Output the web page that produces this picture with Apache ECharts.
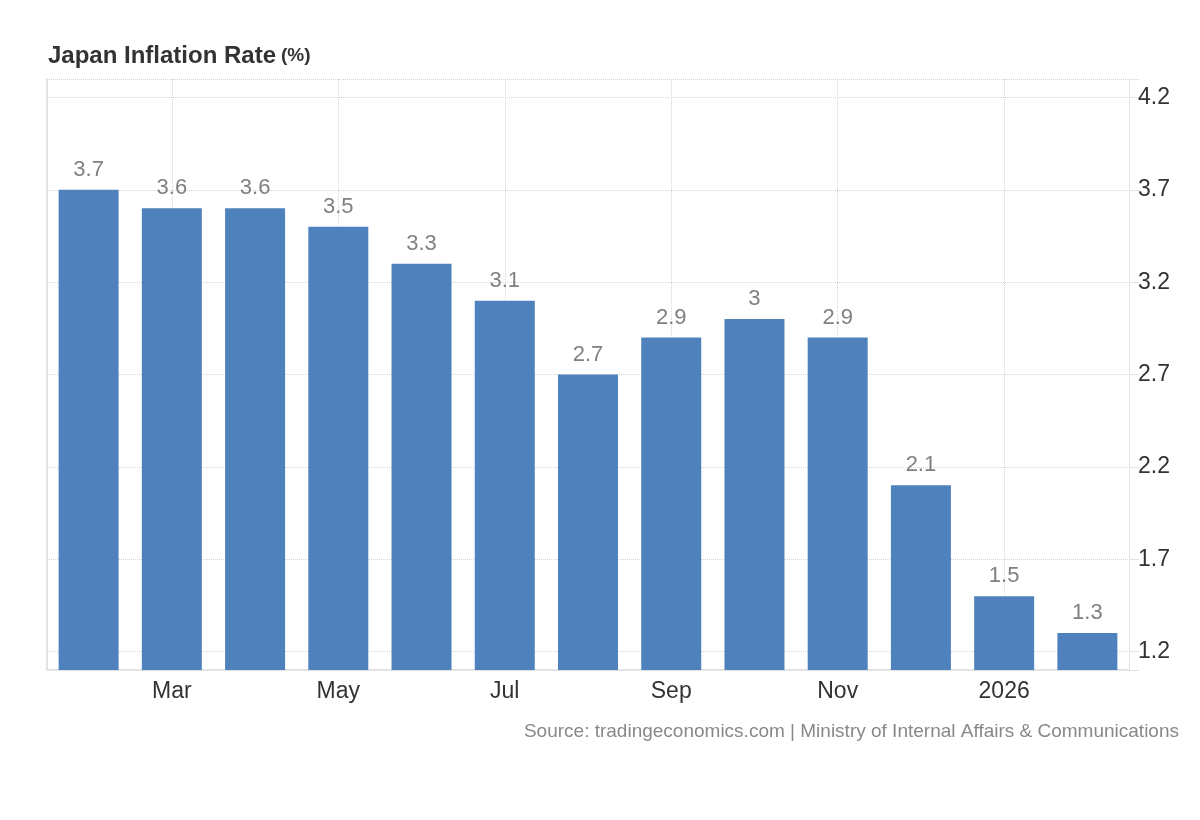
<!DOCTYPE html>
<html>
<head>
<meta charset="utf-8">
<script src="https://cdn.jsdelivr.net/npm/echarts@6/dist/echarts.min.js"></script>
<style>
html,body{margin:0;padding:0;background:#fff;}
#chart{width:1200px;height:820px;}
</style>
</head>
<body>
<div id="chart"></div>
<script>
const categories = ['Feb 2025','Mar 2025','Apr 2025','May 2025','Jun 2025','Jul 2025','Aug 2025','Sep 2025','Oct 2025','Nov 2025','Dec 2025','Jan 2026','Feb 2026'];
const xTickLabels = ['', 'Mar', '', 'May', '', 'Jul', '', 'Sep', '', 'Nov', '', '2026', ''];
const inflation = [3.7, 3.6, 3.6, 3.5, 3.3, 3.1, 2.7, 2.9, 3.0, 2.9, 2.1, 1.5, 1.3];
const yTickLabels = [1.2, 1.7, 2.2, 2.7, 3.2, 3.7, 4.2];
const yMin = 1.1, yMax = 4.3;

const FONT = '"Liberation Sans", Arial, Helvetica, sans-serif';
const chart = echarts.init(document.getElementById('chart'), null, {renderer: 'canvas'});

const vLines = categories
  .map((c, i) => xTickLabels[i] ? {xAxis: c} : null)
  .filter(Boolean);

chart.setOption({
  animation: false,
  backgroundColor: '#fff',
  textStyle: {fontFamily: FONT},
  title: {
    text: '{a|Japan Inflation Rate} {b|(%)}',
    left: 43,
    top: 39,
    textStyle: {
      rich: {
        a: {fontFamily: FONT, fontSize: 24, fontWeight: 'bold', color: '#333'},
        b: {fontFamily: FONT, fontSize: 19, fontWeight: 'bold', color: '#333'}
      }
    }
  },
  graphic: [{
    type: 'text',
    right: 21,
    top: 722,
    style: {
      text: 'Source: tradingeconomics.com | Ministry of Internal Affairs & Communications',
      font: '19px ' + FONT,
      fill: '#888'
    }
  }],
  grid: {left: 47, right: 71, top: 79, bottom: 150, containLabel: false},
  xAxis: {
    type: 'category',
    data: categories,
    axisLine: {show: true, lineStyle: {color: '#e3e3e3', width: 2}},
    axisTick: {show: false},
    axisLabel: {
      interval: 0,
      margin: 10,
      fontSize: 23,
      color: '#333',
      fontFamily: FONT,
      formatter: (v, i) => xTickLabels[i]
    },
    splitLine: {show: false}
  },
  yAxis: [{
    type: 'value',
    position: 'right',
    min: yMin,
    max: yMax,
    axisLine: {show: true, lineStyle: {color: '#e3e3e3', width: 1}},
    axisTick: {
      show: true, length: 10, inside: false,
      lineStyle: {color: '#e3e3e3'},
      customValues: [yMin].concat(yTickLabels, [yMax])
    },
    axisLabel: {
      customValues: yTickLabels,
      margin: 9,
      fontSize: 23,
      color: '#333',
      fontFamily: FONT,
      formatter: v => v.toFixed(1)
    },
    splitLine: {show: true, lineStyle: {color: '#d6d6d6', type: 'dotted', width: 1}}
  }, {
    type: 'value',
    position: 'left',
    min: yMin,
    max: yMax,
    axisLine: {show: true, lineStyle: {color: '#e3e3e3', width: 2}},
    axisTick: {show: false},
    axisLabel: {show: false},
    splitLine: {show: false}
  }],
  series: [{
    type: 'line',
    data: [],
    z: 1,
    silent: true,
    markLine: {
      z: 1,
      silent: true,
      symbol: 'none',
      label: {show: false},
      lineStyle: {color: '#d6d6d6', type: 'dotted', width: 1},
      data: vLines
    }
  }, {
    type: 'bar',
    z: 3,
    data: inflation,
    barWidth: 60,
    itemStyle: {color: '#4f81bd'},
    label: {
      show: true,
      position: 'top',
      distance: 9,
      fontSize: 22,
      color: '#808080',
      fontFamily: FONT
    }
  }]
});
</script>
</body>
</html>
